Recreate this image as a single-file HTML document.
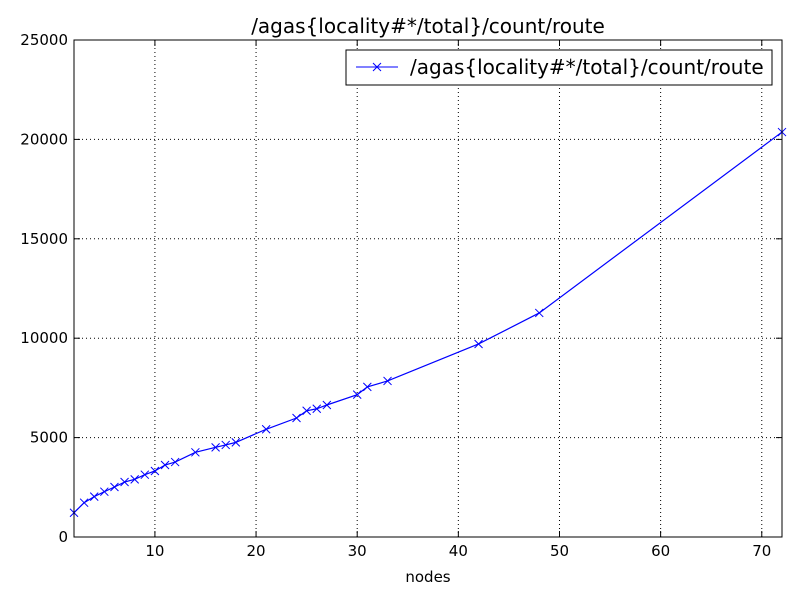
<!DOCTYPE html>
<html><head><meta charset="utf-8"><style>
body{margin:0;background:#fff;}
svg{display:block;font-family:"DejaVu Sans","Liberation Sans",sans-serif;}
</style></head><body>
<svg id="chart" width="800" height="600" viewBox="0 0 800 600">
<rect width="800" height="600" fill="#fff"/>
<g id="grid"></g>
<g id="series"></g>
<rect x="74" y="40" width="708" height="497" fill="none" stroke="#000" stroke-width="1"/>
<g id="axes"></g>
<text x="428" y="33" font-size="20" text-anchor="middle">/agas{locality#*/total}/count/route</text>
<text x="428" y="582" font-size="15" text-anchor="middle">nodes</text>
<g>
<rect x="346" y="50" width="426" height="35" fill="#fff" stroke="#000"/>
<line x1="356" y1="67" x2="398" y2="67" stroke="#0000ff"/>
<path d="M373,63 l8,8 M381,63 l-8,8" stroke="#0000ff"/>
<text x="410" y="74" font-size="20">/agas{locality#*/total}/count/route</text>
</g>
</svg>
<script>
const xs=[2,3,4,5,6,7,8,9,10,11,12,14,16,17,18,21,24,25,26,27,30,31,33,42,48,72];
const ys=[1220,1725,2030,2280,2515,2765,2900,3135,3320,3620,3770,4260,4510,4630,4760,5420,5985,6350,6450,6640,7160,7550,7850,9710,11270,20370];
const xTicks=[10,20,30,40,50,60,70];
const yTicks=[0,5000,10000,15000,20000,25000];
const NS="http://www.w3.org/2000/svg";
const X=v=>74+(v-2)/70*708, Y=v=>537-v/25000*497;
function mk(t,a,p){const e=document.createElementNS(NS,t);for(const k in a)e.setAttribute(k,a[k]);p.appendChild(e);return e;}
const g=document.getElementById('grid'),ax=document.getElementById('axes'),s=document.getElementById('series');
xTicks.forEach(t=>{const x=X(t);
const l=mk('line',{x1:x,y1:40,x2:x,y2:537,stroke:'#000','stroke-dasharray':'1,3'},g);


mk('line',{x1:x,y1:537,x2:x,y2:531,stroke:'#000'},ax);mk('line',{x1:x,y1:40,x2:x,y2:46,stroke:'#000'},ax);
const tx=mk('text',{x:x,y:556,'font-size':15,'text-anchor':'middle'},ax);tx.textContent=t;

});
yTicks.forEach(t=>{const y=Y(t);
const l=mk('line',{x1:74,y1:y,x2:782,y2:y,stroke:'#000','stroke-dasharray':'1,3'},g);


mk('line',{x1:74,y1:y,x2:80,y2:y,stroke:'#000'},ax);mk('line',{x1:782,y1:y,x2:776,y2:y,stroke:'#000'},ax);
const tx=mk('text',{x:68,y:y+5,'font-size':15,'text-anchor':'end'},ax);tx.textContent=t;

});
const line=mk('polyline',{points:xs.map((v,i)=>X(v)+','+Y(ys[i])).join(' '),fill:'none',stroke:'#0000ff','stroke-width':1.2},s);


xs.forEach((v,i)=>{const x=X(v),y=Y(ys[i]);
const m=mk('path',{d:`M${x-4},${y-4}L${x+4},${y+4}M${x+4},${y-4}L${x-4},${y+4}`,stroke:'#0000ff','stroke-width':1},s);

});
</script>
</body></html>
